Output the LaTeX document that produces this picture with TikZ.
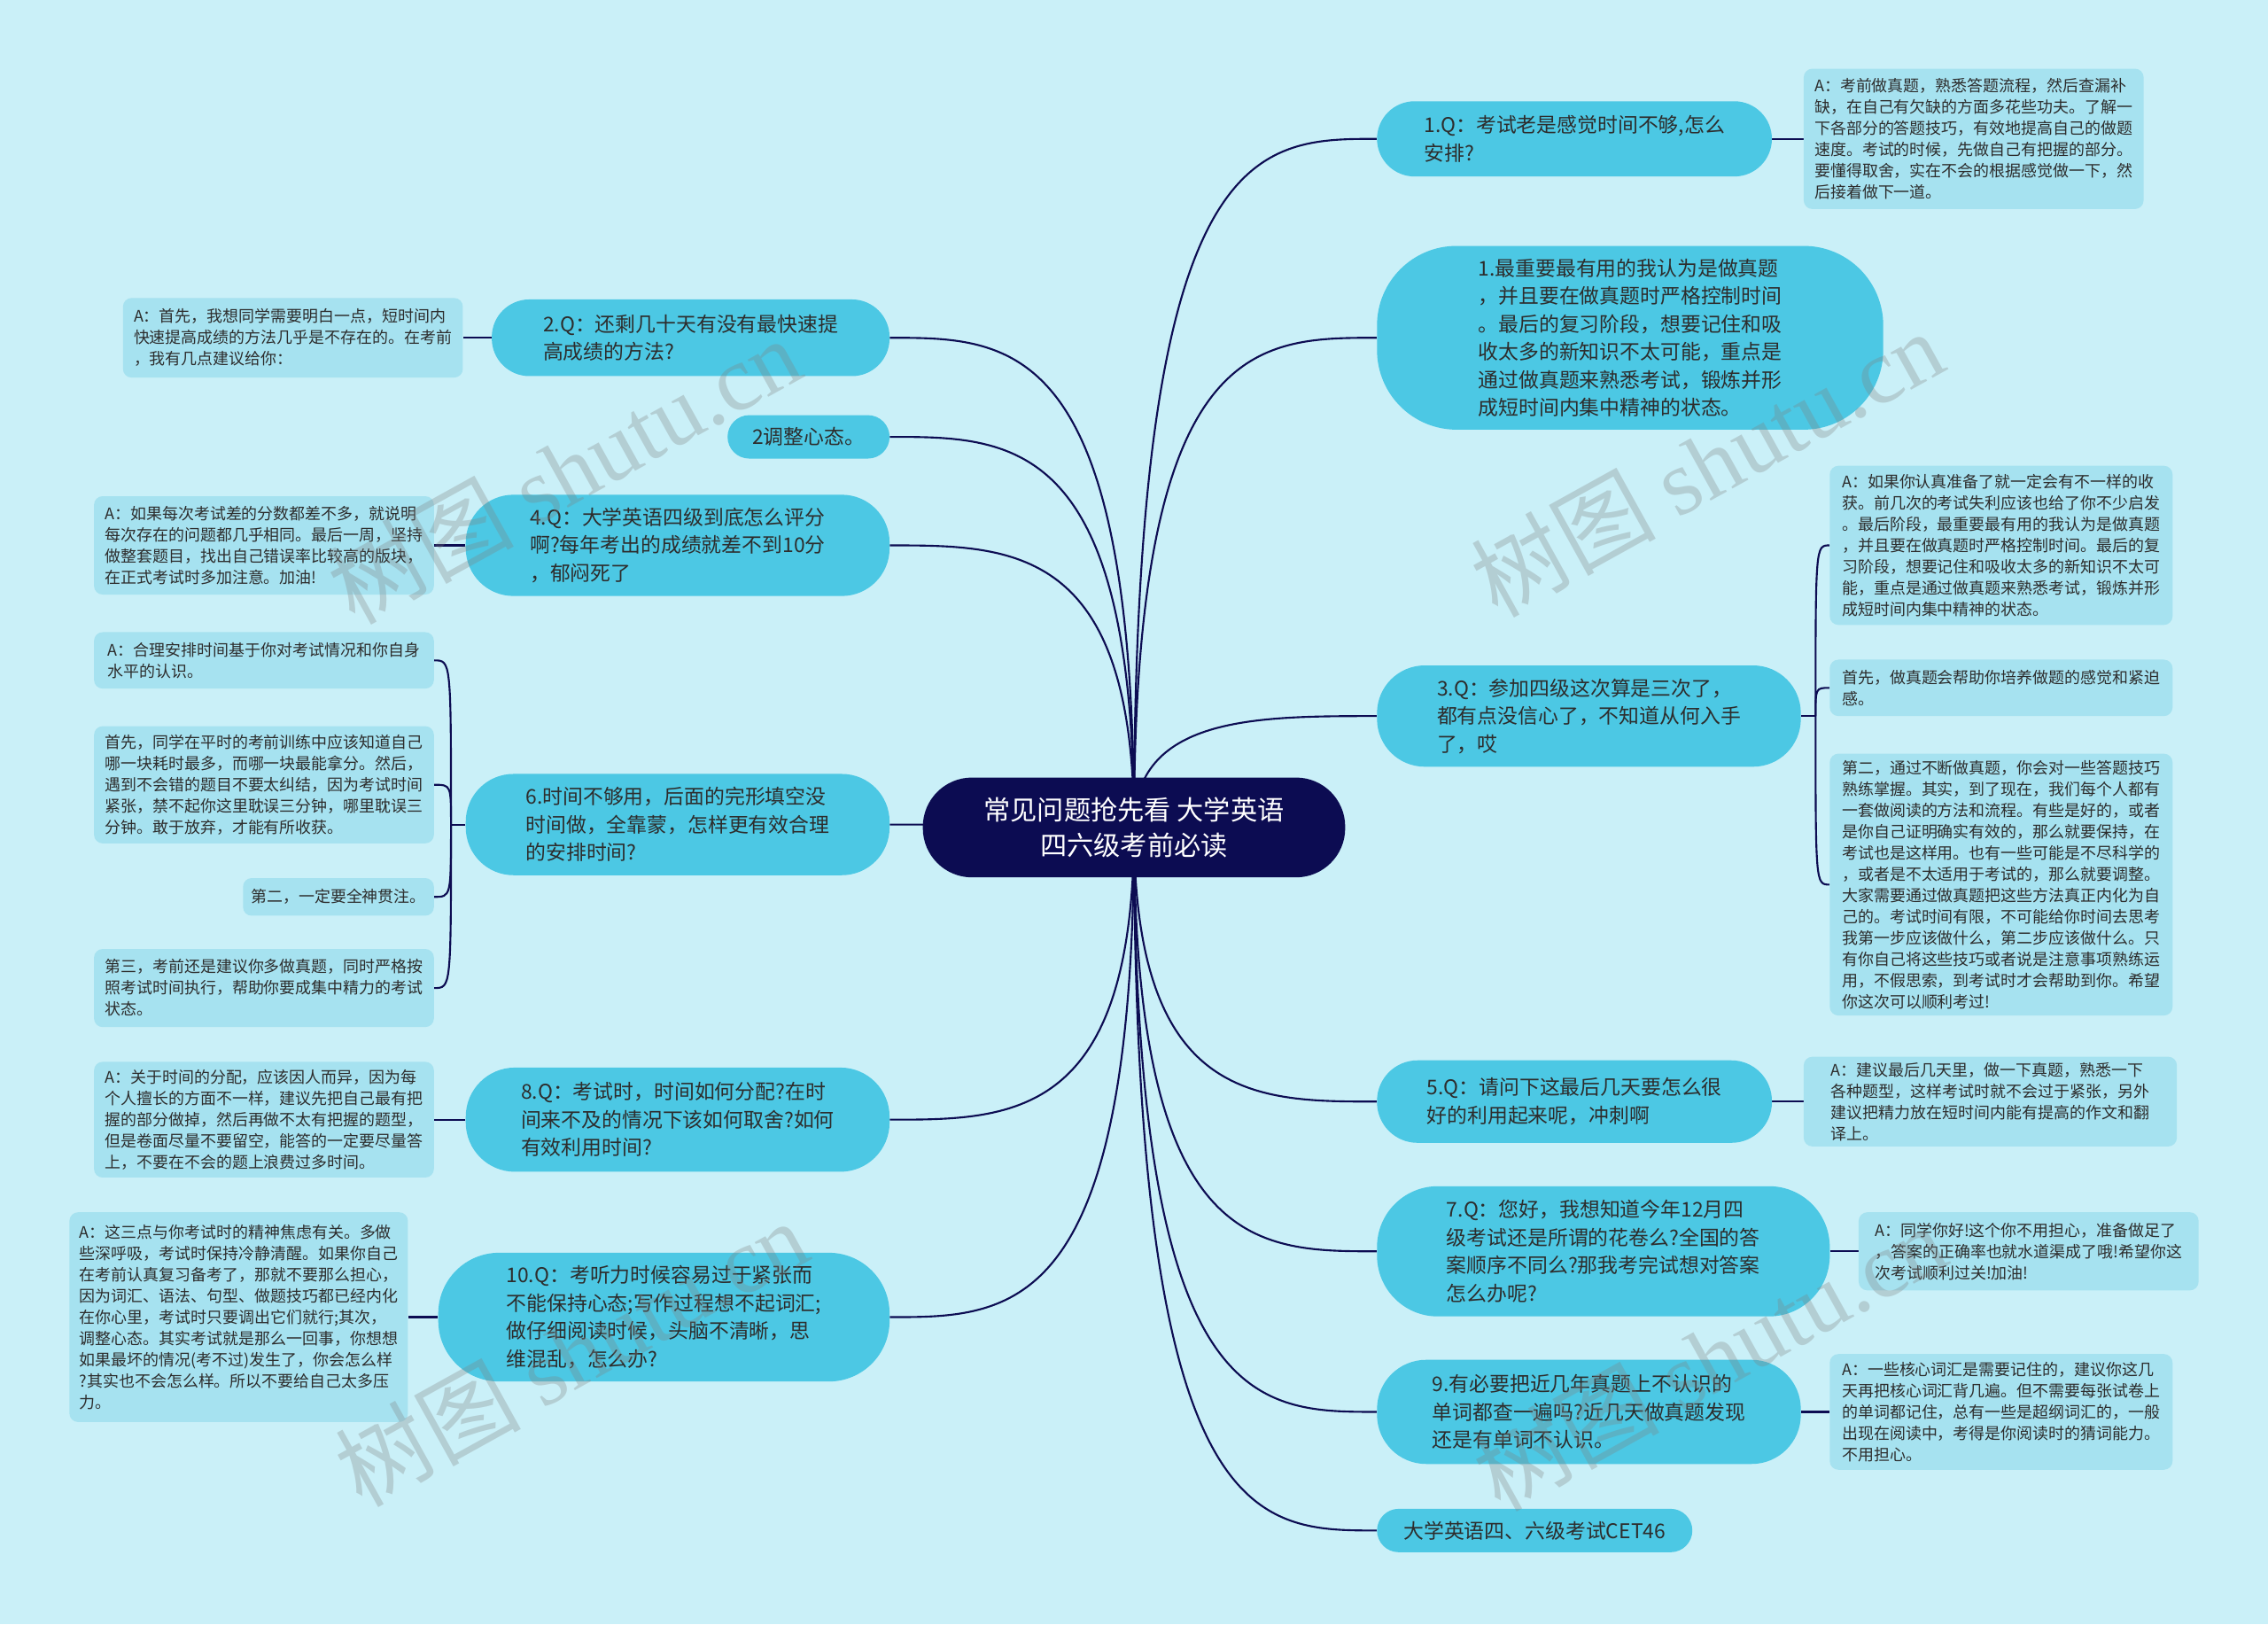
\documentclass[tikz,border=0pt]{standalone}
\usepackage{fontspec}
\usepackage{tikz}
\usetikzlibrary{calc,backgrounds}
\newfontfamily\cjk{Noto Sans CJK SC}
\newfontfamily\wmfont{Liberation Serif}
\definecolor{bgcyan}{RGB}{202,240,248}
\definecolor{topicblue}{RGB}{76,200,228}
\definecolor{leafblue}{RGB}{166,226,240}
\definecolor{navy}{RGB}{12,12,82}
\definecolor{inkgray}{RGB}{45,45,45}

\begin{document}
\begin{tikzpicture}[x=1pt, y=-1pt,
        root/.style={rectangle, fill=navy, text=white, align=center, inner sep=0pt,
                    font=\cjk\fontsize{18.5}{25}\selectfont},
        topic/.style={rectangle, fill=topicblue, text=inkgray, align=left, inner sep=0pt,
                    font=\cjk\fontsize{14}{19.3}\selectfont},
        leaf/.style={rectangle, fill=leafblue, text=inkgray, align=left, inner sep=0pt,
                    rounded corners=6pt, font=\cjk\fontsize{11}{14.7}\selectfont},
        link/.style={draw=navy, line width=1.3pt},
        wmark/.style={text=gray, text opacity=0.3, rotate=29,
                    font=\cjk\fontsize{64}{64}\selectfont}
    ]
        \useasboundingbox (0,0) rectangle (1568,1123);
        \begin{scope}[on background layer]
            \fill[bgcyan] (0,0) rectangle (1568,1123);
        \end{scope}

        \node[root, minimum width=292pt, minimum height=69pt, rounded corners=34pt] (ctr) at (784,572) {常见问题抢先看 大学英语\\四六级考前必读};

        \node[topic, minimum width=273pt, minimum height=52pt, rounded corners=26pt] (q1) at (1088.5,96) {1.Q：考试老是感觉时间不够,怎么\\安排?};
        \node[topic, minimum width=350pt, minimum height=127pt, rounded corners=55pt] (big) at (1127,233.5) {1.最重要最有用的我认为是做真题\\，并且要在做真题时严格控制时间\\。最后的复习阶段，想要记住和吸\\收太多的新知识不太可能，重点是\\通过做真题来熟悉考试，锻炼并形\\成短时间内集中精神的状态。};
        \node[topic, minimum width=293pt, minimum height=70pt, rounded corners=33pt] (q3) at (1098.5,495) {3.Q：参加四级这次算是三次了，\\都有点没信心了，不知道从何入手\\了，哎};
        \node[topic, minimum width=273pt, minimum height=57pt, rounded corners=28pt] (q5) at (1088.5,761.5) {5.Q：请问下这最后几天要怎么很\\好的利用起来呢，冲刺啊};
        \node[topic, minimum width=313pt, minimum height=90pt, rounded corners=42pt] (q7) at (1108.5,865) {7.Q：您好，我想知道今年12月四\\级考试还是所谓的花卷么?全国的答\\案顺序不同么?那我考完试想对答案\\怎么办呢?};
        \node[topic, minimum width=293pt, minimum height=72pt, rounded corners=34pt] (q9) at (1098.5,976) {9.有必要把近几年真题上不认识的\\单词都查一遍吗?近几天做真题发现\\还是有单词不认识。};
        \node[topic, minimum width=218pt, minimum height=30pt, rounded corners=15pt] (cet) at (1061,1058) {大学英语四、六级考试CET46};

        \node[topic, minimum width=275pt, minimum height=53pt, rounded corners=26pt] (q2) at (477.5,233.5) {2.Q：还剩几十天有没有最快速提\\高成绩的方法?};
        \node[topic, minimum width=112pt, minimum height=30pt, rounded corners=15pt] (calm) at (559,302) {2调整心态。};
        \node[topic, minimum width=293pt, minimum height=70pt, rounded corners=33pt] (q4) at (468.5,377) {4.Q：大学英语四级到底怎么评分\\啊?每年考出的成绩就差不到10分\\，郁闷死了};
        \node[topic, minimum width=293pt, minimum height=70pt, rounded corners=33pt] (q6) at (468.5,570) {6.时间不够用，后面的完形填空没\\时间做，全靠蒙，怎样更有效合理\\的安排时间?};
        \node[topic, minimum width=293pt, minimum height=72pt, rounded corners=34pt] (q8) at (468.5,774) {8.Q：考试时，时间如何分配?在时\\间来不及的情况下该如何取舍?如何\\有效利用时间?};
        \node[topic, minimum width=312pt, minimum height=89pt, rounded corners=42pt] (q10) at (459,910.5) {10.Q：考听力时候容易过于紧张而\\不能保持心态;写作过程想不起词汇;\\做仔细阅读时候，头脑不清晰，思\\维混乱，怎么办?};

        \node[leaf, minimum width=235pt, minimum height=97pt] (l1) at (1364.5,96) {A：考前做真题，熟悉答题流程，然后查漏补\\缺，在自己有欠缺的方面多花些功夫。了解一\\下各部分的答题技巧，有效地提高自己的做题\\速度。考试的时候，先做自己有把握的部分。\\要懂得取舍，实在不会的根据感觉做一下，然\\后接着做下一道。};
        \node[leaf, minimum width=237pt, minimum height=110pt] (l3a) at (1383.5,377) {A：如果你认真准备了就一定会有不一样的收\\获。前几次的考试失利应该也给了你不少启发\\。最后阶段，最重要最有用的我认为是做真题\\，并且要在做真题时严格控制时间。最后的复\\习阶段，想要记住和吸收太多的新知识不太可\\能，重点是通过做真题来熟悉考试，锻炼并形\\成短时间内集中精神的状态。};
        \node[leaf, minimum width=237pt, minimum height=39pt] (l3b) at (1383.5,475.5) {首先，做真题会帮助你培养做题的感觉和紧迫\\感。};
        \node[leaf, minimum width=237pt, minimum height=181pt] (l3c) at (1383.5,611.5) {第二，通过不断做真题，你会对一些答题技巧\\熟练掌握。其实，到了现在，我们每个人都有\\一套做阅读的方法和流程。有些是好的，或者\\是你自己证明确实有效的，那么就要保持，在\\考试也是这样用。也有一些可能是不尽科学的\\，或者是不太适用于考试的，那么就要调整。\\大家需要通过做真题把这些方法真正内化为自\\己的。考试时间有限，不可能给你时间去思考\\我第一步应该做什么，第二步应该做什么。只\\有你自己将这些技巧或者说是注意事项熟练运\\用，不假思索，到考试时才会帮助到你。希望\\你这次可以顺利考过!};
        \node[leaf, minimum width=258pt, minimum height=62pt] (l5) at (1376,761.5) {A：建议最后几天里，做一下真题，熟悉一下\\各种题型，这样考试时就不会过于紧张，另外\\建议把精力放在短时间内能有提高的作文和翻\\译上。};
        \node[leaf, minimum width=235pt, minimum height=54pt] (l7) at (1402.5,865) {A：同学你好!这个你不用担心，准备做足了\\，答案的正确率也就水道渠成了哦!希望你这\\次考试顺利过关!加油!};
        \node[leaf, minimum width=237pt, minimum height=80pt] (l9) at (1383.5,976) {A：一些核心词汇是需要记住的，建议你这几\\天再把核心词汇背几遍。但不需要每张试卷上\\的单词都记住，总有一些是超纲词汇的，一般\\出现在阅读中，考得是你阅读时的猜词能力。\\不用担心。};

        \node[leaf, minimum width=235pt, minimum height=55pt] (l2) at (202.5,233.5) {A：首先，我想同学需要明白一点，短时间内\\快速提高成绩的方法几乎是不存在的。在考前\\，我有几点建议给你：};
        \node[leaf, minimum width=235pt, minimum height=68pt] (l4) at (182.5,377) {A：如果每次考试差的分数都差不多，就说明\\每次存在的问题都几乎相同。最后一周，坚持\\做整套题目，找出自己错误率比较高的版块，\\在正式考试时多加注意。加油!};
        \node[leaf, minimum width=235pt, minimum height=39pt] (l6a) at (182.5,456.5) {A：合理安排时间基于你对考试情况和你自身\\水平的认识。};
        \node[leaf, minimum width=235pt, minimum height=81pt] (l6b) at (182.5,542.5) {首先，同学在平时的考前训练中应该知道自己\\哪一块耗时最多，而哪一块最能拿分。然后，\\遇到不会错的题目不要太纠结，因为考试时间\\紧张，禁不起你这里耽误三分钟，哪里耽误三\\分钟。敢于放弃，才能有所收获。};
        \node[leaf, minimum width=132pt, minimum height=26pt] (l6c) at (234,620) {第二，一定要全神贯注。};
        \node[leaf, minimum width=235pt, minimum height=54pt] (l6d) at (182.5,683) {第三，考前还是建议你多做真题，同时严格按\\照考试时间执行，帮助你要成集中精力的考试\\状态。};
        \node[leaf, minimum width=235pt, minimum height=80pt] (l8) at (182.5,774) {A：关于时间的分配，应该因人而异，因为每\\个人擅长的方面不一样，建议先把自己最有把\\握的部分做掉，然后再做不太有把握的题型，\\但是卷面尽量不要留空，能答的一定要尽量答\\上，不要在不会的题上浪费过多时间。};
        \node[leaf, minimum width=234pt, minimum height=145pt] (l10) at (165,910.5) {A：这三点与你考试时的精神焦虑有关。多做\\些深呼吸，考试时保持冷静清醒。如果你自己\\在考前认真复习备考了，那就不要那么担心，\\因为词汇、语法、句型、做题技巧都已经内化\\在你心里，考试时只要调出它们就行;其次，\\调整心态。其实考试就是那么一回事，你想想\\如果最坏的情况(考不过)发生了，你会怎么样\\?其实也不会怎么样。所以不要给自己太多压\\力。};

        \begin{scope}[on background layer]
            \foreach \n in {q1,big,q3,q5,q7,q9,cet}
                \draw[link] (ctr.center) .. controls (ctr.center |- \n.west) and ($(ctr.center |- \n.west)!0.5!(\n.west)$) .. (\n.west);
            \foreach \n in {q2,calm,q4,q6,q8,q10}
                \draw[link] (ctr.center) .. controls (ctr.center |- \n.east) and ($(ctr.center |- \n.east)!0.5!(\n.east)$) .. (\n.east);

            \draw[link] (q1.east) -- (q1.east -| l1.west);
            \draw[link] (q5.east) -- (q5.east -| l5.west);
            \draw[link] (q7.east) -- (q7.east -| l7.west);
            \draw[link] (q9.east) -- (q9.east -| l9.west);
            \draw[link] (q2.west) -- (q2.west -| l2.east);
            \draw[link] (q4.west) -- (q4.west -| l4.east);
            \draw[link] (q8.west) -- (q8.west -| l8.east);
            \draw[link] (q10.west) -- (q10.west -| l10.east);

            \draw[link] (q3.east) -- ++(10,0) coordinate (f3);
            \foreach \n in {l3a,l3b,l3c}
                \draw[link] (f3) .. controls (f3 |- \n.west) .. (\n.west);
            \draw[link] (q6.west) -- ++(-10,0) coordinate (f6);
            \foreach \n in {l6a,l6b,l6c,l6d}
                \draw[link] (f6) .. controls (f6 |- \n.east) .. (\n.east);
        \end{scope}

        \node[wmark] (wm1) at (390,325) {树图 {\wmfont shutu.cn}};
        \node[wmark] (wm2) at (1180,320) {树图 {\wmfont shutu.cn}};
        \node[wmark] (wm3) at (395,935) {树图 {\wmfont shutu.cn}};
        \node[wmark] (wm4) at (1182,938) {树图 {\wmfont shutu.cn}};
    \end{tikzpicture}
\end{document}
